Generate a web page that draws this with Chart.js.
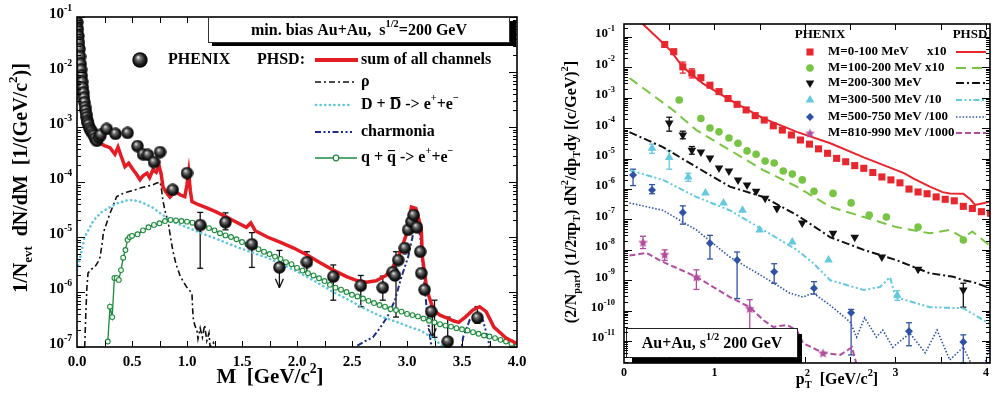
<!DOCTYPE html>
<html>
<head>
<meta charset="utf-8">
<script src="https://cdn.jsdelivr.net/npm/chart.js@4.4.1/dist/chart.umd.min.js"></script>
<style>
  html, body { margin: 0; padding: 0; background: #fff; }
  body { width: 1001px; height: 396px; position: relative; overflow: hidden; }
  canvas { position: absolute; top: 0; }
  #massChart { left: 0; }
  #ptChart { left: 540px; }
</style>
</head>
<body>
<canvas id="massChart" width="540" height="396"></canvas>
<canvas id="ptChart" width="461" height="396"></canvas>
<script>
// ---------- left panel: dN/dM, min. bias Au+Au ----------
var phxM = [0.003, 0.008, 0.013, 0.018, 0.023, 0.028, 0.033, 0.038, 0.043, 0.048, 0.053, 0.058, 0.063, 0.068, 0.073, 0.078, 0.083, 0.088, 0.093, 0.098,
  0.105, 0.115, 0.125, 0.135, 0.145, 0.155, 0.165, 0.18, 0.20, 0.215,
  0.27, 0.35, 0.46, 0.55, 0.60, 0.645, 0.70, 0.755, 0.87, 1.0,
  1.12, 1.35, 1.59, 1.84, 2.09, 2.33, 2.58, 2.78, 2.87, 2.89, 2.92, 2.98, 3.01, 3.04, 3.06, 3.09, 3.12, 3.13, 3.16, 3.22, 3.37, 3.64]
var phxY = [0.08, 0.06, 0.045, 0.034, 0.026, 0.019, 0.014, 0.011, 0.0085, 0.0066, 0.0052, 0.0042, 0.0034, 0.0028, 0.0023, 0.002, 0.0017, 0.0015, 0.0013, 0.0012,
  1.1e-3, 9.5e-4, 8.8e-4, 8.2e-4, 7.5e-4, 7.0e-4, 6.2e-4, 5.6e-4, 6.5e-4, 7.2e-4,
  9.2e-4, 7.5e-4, 7.8e-4, 4.5e-4, 3.2e-4, 3.1e-4, 2.3e-4, 3.5e-4, 7.2e-5, 1.45e-4,
  1.65e-5, 1.85e-5, 7.4e-6, 2.8e-6, 3.5e-6, 1.9e-6, 1.3e-6, 1.2e-6, 2.3e-6, 2.0e-6, 3.8e-6, 6.3e-6, 1.35e-5, 1.9e-5, 2.5e-5, 1.5e-5, 5.4e-6, 2.2e-6, 1.1e-6, 4.4e-7, 1.26e-7, 3.4e-7]
// [M, low, high]
var phxErr = [[1.12, 2.7e-6, 2.8e-5], [1.35, 1.35e-5, 2.75e-5], [1.59, 2.8e-6, 1.2e-5], [2.09, 2.3e-6, 5.4e-6], [2.33, 7.1e-7, 3.1e-6],
  [2.58, 5.4e-7, 2.0e-6], [2.78, 7.1e-7, 1.95e-6], [2.90, 3.5e-7, 5.4e-6], [3.37, 1.0e-7, 3.5e-7], [3.64, 2.7e-7, 5.4e-7], [3.25, 1.5e-7, 7.1e-7]]
// upper limits [M, top, arrow tip]
var phxLim = [[1.84, 5.7e-6, 1.2e-6], [3.23, 4.4e-7, 1.5e-7]]

var sumM = [0.005, 0.02, 0.04, 0.06, 0.08, 0.10, 0.13, 0.16, 0.19, 0.21, 0.25, 0.30, 0.345, 0.373, 0.40, 0.436, 0.47, 0.51, 0.54, 0.573,
  0.60, 0.636, 0.66, 0.69, 0.72, 0.745, 0.765, 0.782, 0.81, 0.845, 0.87, 0.90, 0.94, 0.98, 1.0, 1.015, 1.03, 1.045, 1.10, 1.18,
  1.26, 1.36, 1.45, 1.54, 1.58, 1.62, 1.73, 1.85, 1.97, 2.10, 2.21, 2.33, 2.45, 2.55, 2.63, 2.72, 2.81, 2.87, 2.92, 2.96,
  3.00, 3.04, 3.08, 3.11, 3.13, 3.14, 3.18, 3.24, 3.30, 3.36, 3.42, 3.47, 3.53, 3.60, 3.66, 3.72, 3.79, 3.85, 3.90, 3.95, 4.0]
var sumY = [0.07, 0.035, 0.012, 0.005, 0.0028, 0.0018, 0.0011, 7.5e-4, 5.8e-4, 5.1e-4, 4.6e-4, 4.2e-4, 3.2e-4, 4.3e-4, 3.0e-4, 1.9e-4, 2.2e-4, 1.67e-4, 1.4e-4, 1.1e-4,
  1.3e-4, 1.45e-4, 1.2e-4, 1.67e-4, 1.5e-4, 2.0e-4, 1.4e-4, 8.1e-5, 6.5e-5, 5.3e-5, 6.0e-5, 6.6e-5, 5.8e-5, 5.4e-5, 9.0e-5, 1.5e-4, 7.0e-5, 4.4e-5, 3.9e-5, 3.4e-5,
  2.9e-5, 2.3e-5, 1.85e-5, 1.5e-5, 1.8e-5, 1.3e-5, 1.0e-5, 8.0e-6, 6.3e-6, 4.6e-6, 3.4e-6, 2.5e-6, 1.9e-6, 1.6e-6, 1.5e-6, 1.6e-6, 2.0e-6, 2.8e-6, 4.3e-6, 7.0e-6,
  1.2e-5, 3.5e-5, 3.3e-5, 2.0e-5, 1.35e-5, 4.3e-6, 1.1e-6, 4.7e-7, 3.8e-7, 3.4e-7, 3.0e-7, 2.8e-7, 3.5e-7, 4.7e-7, 5.4e-7, 4.4e-7, 2.3e-7, 1.8e-7, 1.45e-7, 1.3e-7, 1.15e-7]

var rhoM = [0.07, 0.08, 0.09, 0.10, 0.13, 0.16, 0.19, 0.21, 0.23, 0.24, 0.27, 0.30, 0.33, 0.36, 0.40, 0.45, 0.51, 0.55, 0.60, 0.65, 0.69, 0.72, 0.755,
  0.77, 0.78, 0.80, 0.83, 0.85, 0.87, 0.90, 0.94, 0.97, 1.0, 1.045, 1.055, 1.07, 1.09, 1.10, 1.12, 1.14, 1.16, 1.18, 1.20, 1.21, 1.24, 1.26]
var rhoY = [1.0e-7, 4.0e-7, 1.2e-6, 2.2e-6, 2.6e-6, 2.8e-6, 3.5e-6, 4.3e-6, 8.0e-6, 1.2e-5, 1.8e-5, 2.7e-5, 3.8e-5, 5.4e-5, 6.0e-5, 6.5e-5, 7.0e-5, 7.5e-5, 8.0e-5, 8.5e-5, 8.9e-5, 9.5e-5, 1.0e-4,
  7.0e-5, 4.7e-5, 3.0e-5, 1.8e-5, 1.0e-5, 5.8e-6, 3.2e-6, 1.9e-6, 1.5e-6, 1.2e-6, 9.5e-7, 3.5e-7, 2.5e-7, 2.0e-7, 1.4e-7, 2.2e-7, 1.5e-7, 2.5e-7, 1.3e-7, 1.8e-7, 1.0e-7, 1.2e-7, 8.0e-8]

var ddM = [0.0, 0.03, 0.07, 0.15, 0.22, 0.30, 0.38, 0.45, 0.51, 0.57, 0.63, 0.69, 0.78, 0.87, 1.0, 1.12, 1.27, 1.42, 1.57, 1.73,
  1.88, 2.03, 2.18, 2.33, 2.48, 2.64, 2.78, 2.94, 3.03, 3.12, 3.24, 3.33, 3.40]
var ddY = [2.5e-6, 4.3e-6, 1.0e-5, 2.0e-5, 2.8e-5, 3.5e-5, 4.2e-5, 4.6e-5, 4.7e-5, 4.4e-5, 3.9e-5, 3.4e-5, 2.5e-5, 1.9e-5, 1.5e-5, 1.2e-5, 9.2e-6, 7.0e-6, 5.4e-6, 4.2e-6,
  3.1e-6, 2.2e-6, 1.5e-6, 1.0e-6, 7.0e-7, 4.7e-7, 3.5e-7, 2.7e-7, 2.3e-7, 2.0e-7, 1.45e-7, 1.0e-7, 7.0e-8]

var ccM = [2.45, 2.53, 2.61, 2.69, 2.76, 2.82, 2.89, 2.95, 3.01, 3.05, 3.09, 3.12, 3.15, 3.18, 3.21, 3.24, 3.48, 3.51, 3.57, 3.64, 3.69, 3.74, 3.77]
var ccY = [6e-8, 1.0e-7, 1.25e-7, 1.5e-7, 2.3e-7, 3.5e-7, 7.0e-7, 1.9e-6, 4.3e-6, 1.0e-5, 2.2e-5, 1.0e-5, 2.2e-6, 4.7e-7, 1.5e-7, 6e-8, 6e-8, 1.5e-7, 3.1e-7, 3.8e-7, 3.1e-7, 1.3e-7, 6e-8]

var qqM = [0.28, 0.30, 0.32, 0.34, 0.36, 0.38, 0.40, 0.42, 0.44, 0.46, 0.48, 0.50, 0.55, 0.60, 0.65, 0.70, 0.75, 0.80, 0.85, 0.90,
  0.95, 1.00, 1.05, 1.10, 1.15, 1.20, 1.25, 1.30, 1.35, 1.40, 1.45, 1.50, 1.55, 1.60, 1.65, 1.70, 1.75, 1.80, 1.85, 1.90,
  1.95, 2.00, 2.05, 2.10, 2.15, 2.20, 2.25, 2.30, 2.35, 2.40, 2.45, 2.50, 2.55, 2.60, 2.65, 2.70, 2.75, 2.80, 2.85, 2.90,
  2.95, 3.00, 3.05, 3.10, 3.15, 3.20, 3.25, 3.30, 3.35, 3.40, 3.45, 3.50, 3.55, 3.60, 3.65, 3.70, 3.75, 3.80, 3.85, 3.90, 3.95, 4.00]
var qqY = [1.26e-7, 5.4e-7, 3.5e-7, 1.8e-6, 1.8e-6, 1.66e-6, 2.5e-6, 4.2e-6, 5.8e-6, 8.9e-6, 1.0e-5, 1.05e-5, 1.12e-5, 1.32e-5, 1.5e-5, 1.66e-5, 1.78e-5, 1.95e-5, 2.04e-5, 2.0e-5,
  1.95e-5, 1.9e-5, 1.82e-5, 1.7e-5, 1.58e-5, 1.45e-5, 1.32e-5, 1.17e-5, 1.07e-5, 1.0e-5, 9.1e-6, 8.1e-6, 7.4e-6, 6.6e-6, 6.0e-6, 5.4e-6, 4.9e-6, 4.4e-6, 4.0e-6, 3.5e-6,
  3.2e-6, 2.75e-6, 2.45e-6, 2.2e-6, 2.0e-6, 1.78e-6, 1.58e-6, 1.35e-6, 1.2e-6, 1.1e-6, 1.0e-6, 8.9e-7, 8.3e-7, 7.6e-7, 6.9e-7, 6.3e-7, 5.8e-7, 5.4e-7, 4.9e-7, 4.7e-7,
  4.4e-7, 4.0e-7, 3.8e-7, 3.6e-7, 3.3e-7, 3.0e-7, 2.8e-7, 2.6e-7, 2.45e-7, 2.35e-7, 2.2e-7, 2.1e-7, 2.0e-7, 1.86e-7, 1.74e-7, 1.62e-7, 1.55e-7, 1.45e-7, 1.35e-7, 1.26e-7, 1.15e-7, 1.07e-7]

var massTicks = [0, 0.5, 1, 1.5, 2, 2.5, 3, 3.5, 4]
var massTickLabels = ['0.0', '0.5', '1.0', '1.5', '2.0', '2.5', '3.0', '3.5', '4.0']
var massExp = [-1, -2, -3, -4, -5, -6, -7]

// ---------- right panel: pT^2 spectra ----------
var b1X = [0.45, 0.55, 0.65, 0.75, 0.85, 0.95, 1.05, 1.15, 1.25, 1.35, 1.45, 1.55, 1.65, 1.75, 1.85, 1.95, 2.05, 2.15, 2.25,
  2.35, 2.45, 2.55, 2.65, 2.75, 2.85, 2.95, 3.05, 3.15, 3.25, 3.35, 3.45, 3.55, 3.65, 3.75, 3.85, 3.95, 4.05]
var b1Y = [0.057, 0.033, 0.0105, 0.0065, 0.0046, 0.0026, 0.0016, 9.5e-4, 6.1e-4, 4.0e-4, 2.6e-4, 1.86e-4, 1.2e-4, 8.7e-5, 6.0e-5, 4.1e-5, 3.0e-5, 2.1e-5, 1.5e-5,
  1.02e-5, 7.9e-6, 5.9e-6, 4.8e-6, 3.5e-6, 2.5e-6, 2.0e-6, 1.6e-6, 1.0e-6, 8.0e-7, 7.0e-7, 5.5e-7, 4.6e-7, 4.1e-7, 2.7e-7, 2.3e-7, 1.8e-7, 1.6e-7]
var b1LX = [0.19, 0.36, 0.51, 0.65, 0.87, 1.17, 1.54, 1.91, 2.28, 2.65, 3.01, 3.10, 3.20, 3.38, 3.52, 3.60, 3.75, 3.83, 3.88, 3.97, 4.10]
var b1LY = [0.3, 0.1, 0.037, 0.0103, 0.003, 8.5e-4, 2.1e-4, 7.6e-5, 3.2e-5, 1.1e-5, 4.2e-6, 3.3e-6, 2.2e-6, 1.2e-6, 7.9e-7, 7.2e-7, 7.0e-7, 4.5e-7, 3.0e-7, 3.4e-7, 4.3e-7]

var b2X = [0.61, 0.85, 0.95, 1.05, 1.16, 1.26, 1.36, 1.46, 1.56, 1.66, 1.76, 1.86, 1.97, 2.10, 2.31, 2.51, 2.71, 2.90, 3.25, 3.75]
var b2Y = [8.5e-4, 2.1e-4, 1.02e-4, 7.6e-5, 4.8e-5, 3.2e-5, 1.8e-5, 1.4e-5, 8.3e-6, 7.2e-6, 3.9e-6, 3.1e-6, 2.0e-6, 8.5e-7, 7.2e-7, 3.5e-7, 1.4e-7, 1.2e-7, 5.6e-8, 2.1e-8]
var b2LX = [0.06, 0.54, 0.80, 1.17, 1.54, 1.91, 2.28, 2.65, 3.01, 3.38, 3.60, 3.75, 3.85, 4.10]
var b2LY = [4.5e-3, 4.0e-4, 8.7e-5, 1.9e-5, 4.2e-6, 1.2e-6, 2.6e-7, 1.2e-7, 5.6e-8, 3.5e-8, 4.5e-8, 2.5e-8, 4.0e-8, 1.0e-8]

var b3X = [0.50, 0.65, 0.75, 0.85, 0.95, 1.05, 1.16, 1.26, 1.36, 1.46, 1.56, 1.69, 1.97, 2.31, 2.55, 2.85, 3.25, 3.75]
var b3Y = [1.5e-4, 6.0e-5, 1.9e-5, 1.66e-5, 1.05e-5, 4.9e-6, 3.9e-6, 2.0e-6, 1.35e-6, 8.5e-7, 5.0e-7, 2.3e-7, 7.6e-8, 3.5e-8, 2.6e-8, 5.8e-9, 2.3e-9, 4.8e-10]
var b3LX = [0.06, 0.43, 0.80, 1.17, 1.54, 1.91, 2.28, 2.65, 3.01, 3.38, 3.64, 3.75, 3.86, 4.10]
var b3LY = [7.4e-5, 2.4e-5, 5.3e-6, 1.2e-6, 5.5e-7, 1.4e-7, 2.6e-8, 1.0e-8, 4.6e-9, 1.7e-9, 1.3e-9, 1.0e-9, 8.7e-10, 4.8e-10]

var b4X = [0.31, 0.50, 0.71, 0.90, 1.10, 1.31, 1.50, 1.86, 2.26, 3.02]
var b4Y = [2.2e-5, 1.1e-5, 2.5e-6, 7.4e-7, 3.5e-7, 2.0e-7, 4.5e-8, 1.8e-8, 4.6e-9, 3.2e-10]
var b4LX = [0.06, 0.43, 0.80, 1.17, 1.54, 1.91, 2.09, 2.28, 2.65, 2.83, 2.94, 3.00, 3.38, 3.75, 4.10]
var b4LY = [4.2e-6, 2.0e-6, 5.5e-7, 2.0e-7, 4.5e-8, 1.0e-8, 3.7e-9, 1.0e-9, 4.8e-10, 6.0e-10, 1.26e-9, 2.8e-10, 1.3e-10, 1.2e-10, 2.9e-11]

var b5X = [0.10, 0.31, 0.65, 0.95, 1.25, 1.66, 2.10, 2.51, 3.15, 3.75]
var b5Y = [2.9e-6, 9.3e-7, 1.7e-7, 1.66e-8, 4.6e-9, 1.9e-9, 5.5e-10, 8.5e-11, 2.1e-11, 9.3e-12]
var b5LX = [0.06, 0.43, 0.80, 1.17, 1.54, 1.83, 1.98, 2.09, 2.28, 2.50, 2.57, 2.66, 2.79, 2.86, 2.97, 3.16, 3.33, 3.46, 3.60, 3.75, 3.85, 3.98, 4.07]
var b5LY = [3.5e-7, 2.0e-7, 4.5e-8, 5.8e-9, 1.3e-9, 3.8e-10, 2.8e-10, 3.8e-10, 1.5e-10, 4.2e-11, 1.35e-11, 5.8e-11, 1.35e-11, 2.3e-11, 6.3e-12, 1.8e-11, 4.1e-12, 2.3e-11, 2.4e-12, 6.3e-12, 1.5e-12, 1.5e-12, 1.35e-11]

var b6X = [0.21, 0.45, 0.80, 1.39, 2.20]
var b6Y = [1.8e-8, 7.2e-9, 1.3e-9, 1.2e-10, 4.1e-12]
var b6LX = [0.06, 0.25, 0.43, 0.80, 1.17, 1.39, 1.54, 1.65, 1.80, 1.91, 1.98, 2.20, 2.39, 2.52, 2.59]
var b6LY = [6.5e-9, 7.9e-9, 4.0e-9, 1.3e-9, 2.8e-10, 1.3e-10, 4.9e-11, 2.9e-11, 3.4e-11, 2.3e-11, 8.5e-12, 4.1e-12, 3.5e-12, 6.3e-12, 1.0e-12]

// [pT^2, low, high]
var b1Err = [[0.65, 0.0065, 0.015], [0.75, 0.0045, 0.009]]
var b3Err = [[0.50, 8.0e-5, 2.3e-4], [0.65, 4.5e-5, 8.0e-5], [0.75, 1.4e-5, 2.5e-5], [3.75, 1.3e-10, 8.0e-10]]
var b4Err = [[0.31, 1.5e-5, 3.0e-5], [0.50, 4.5e-6, 1.8e-5], [0.71, 1.8e-6, 3.3e-6], [3.02, 2.2e-10, 4.5e-10]]
var b5Err = [[0.10, 1.3e-6, 4.5e-6], [0.31, 7.0e-7, 1.4e-6], [0.65, 7.0e-8, 2.8e-7], [0.95, 5.0e-9, 3.0e-8], [1.25, 2.5e-10, 8.5e-9],
  [1.66, 8.0e-10, 3.5e-9], [2.10, 3.5e-10, 9.0e-10], [2.51, 3.5e-12, 1.1e-10], [3.15, 7.0e-12, 4.0e-11], [3.75, 1.5e-12, 1.6e-11]]
var b6Err = [[0.21, 1.1e-8, 2.8e-8], [0.45, 4.5e-9, 1.0e-8], [0.80, 5.0e-10, 2.2e-9], [1.39, 2.0e-12, 2.3e-10]]

var ptTicks = [0, 1, 3, 4]
var ptTickLabels = ['0', '1', '3', '4']
var ptExp = [-1, -2, -3, -4, -5, -6, -7, -8, -9, -10, -11]
var binLabels = ['M=0-100 MeV', 'M=100-200 MeV x10', 'M=200-300 MeV', 'M=300-500 MeV /10', 'M=500-750 MeV /100', 'M=810-990 MeV /1000']

// ---------- helpers ----------
var RED = '#e41c24', CYAN = '#5ec6dc', NAVY = '#1d2b8c', GREEN = '#1c8a3c'
var RRED = '#e8262e', RGREEN = '#78c444', RCYAN = '#62c9de', RBLUE = '#2f52a6', RMAG = '#b24c9e'
var ROFF = 540

function pts(xs, ys) {
  return xs.map(function (x, i) { return { x: x, y: ys[i] } })
}
function fnt(s) { return 'bold ' + s + 'px "Liberation Serif", "Times New Roman", serif' }
function sup(t) { return { t: t, k: 'sup' } }
function sub(t) { return { t: t, k: 'sub' } }
function bar(t) { return { t: t, k: 'bar' } }
function ss(a, b) { return { t: a, b: b, k: 'ss' } }

function partW(ctx, p, size) {
  if (p.k === 'sup' || p.k === 'sub') { ctx.font = fnt(size * 0.65); return ctx.measureText(p.t).width }
  if (p.k === 'ss') { ctx.font = fnt(size * 0.65); return Math.max(ctx.measureText(p.t).width, ctx.measureText(p.b).width) }
  ctx.font = fnt(size); return ctx.measureText(p.t).width
}
function drawRich(ctx, parts, x, y, size, align) {
  parts = parts.map(function (p) { return typeof p === 'string' ? { t: p, k: '' } : p })
  var w = 0
  parts.forEach(function (p) { w += partW(ctx, p, size) })
  var cx = align === 'center' ? x - w / 2 : align === 'right' ? x - w : x
  ctx.textAlign = 'left'
  ctx.textBaseline = 'middle'
  parts.forEach(function (p) {
    var pw = partW(ctx, p, size)
    if (p.k === 'sup') ctx.fillText(p.t, cx, y - size * 0.4)
    else if (p.k === 'sub') ctx.fillText(p.t, cx, y + size * 0.32)
    else if (p.k === 'ss') { ctx.fillText(p.t, cx, y - size * 0.4); ctx.fillText(p.b, cx, y + size * 0.32) }
    else {
      ctx.fillText(p.t, cx, y)
      if (p.k === 'bar') ctx.fillRect(cx + 1, y - size * 0.5, pw - 2, Math.max(1, size * 0.07))
    }
    cx += pw
  })
  return w
}
function seg(ctx, x1, y1, x2, y2) {
  ctx.beginPath(); ctx.moveTo(x1, y1); ctx.lineTo(x2, y2); ctx.stroke()
}
function sample(ctx, x1, x2, y, color, width, dash) {
  ctx.save(); ctx.strokeStyle = color; ctx.lineWidth = width; ctx.setLineDash(dash || []); seg(ctx, x1, y, x2, y); ctx.restore()
}
function errorBars(ctx, chart, list, color, cap) {
  var xs = chart.scales.x, ys = chart.scales.y
  ctx.save(); ctx.strokeStyle = color; ctx.lineWidth = 1.3
  list.forEach(function (e) {
    var x = xs.getPixelForValue(e[0]), y1 = ys.getPixelForValue(e[1]), y2 = ys.getPixelForValue(e[2])
    y1 = Math.min(y1, chart.chartArea.bottom)
    seg(ctx, x, y1, x, y2); seg(ctx, x - cap, y1, x + cap, y1); seg(ctx, x - cap, y2, x + cap, y2)
  })
  ctx.restore()
}
function logTicks(ctx, chart) {
  var a = chart.chartArea, ys = chart.scales.y
  var lo = Math.floor(Math.log10(ys.min)), hi = Math.ceil(Math.log10(ys.max))
  for (var d = lo; d <= hi; d++) {
    for (var k = 1; k <= 9; k++) {
      var v = k * Math.pow(10, d)
      if (v < ys.min * 0.999 || v > ys.max * 1.001) continue
      var y = Math.round(ys.getPixelForValue(v)) + 0.5, L = k === 1 ? 8 : 4
      seg(ctx, a.left, y, a.left + L, y); seg(ctx, a.right, y, a.right - L, y)
    }
  }
}
function frame(ctx, chart, xStep) {
  var a = chart.chartArea, xs = chart.scales.x
  ctx.save()
  ctx.strokeStyle = '#000'; ctx.lineWidth = 1
  logTicks(ctx, chart)
  for (var v = xStep; v < xs.max - 1e-6; v += xStep) {
    var x = Math.round(xs.getPixelForValue(v)) + 0.5
    seg(ctx, x, a.bottom, x, a.bottom - 6); seg(ctx, x, a.top, x, a.top + 6)
  }
  ctx.lineWidth = 1.6
  ctx.strokeRect(a.left, a.top, a.right - a.left, a.bottom - a.top)
  ctx.restore()
}
function makeBall(d) {
  var c = document.createElement('canvas'); c.width = c.height = d
  var g = c.getContext('2d'), r = d / 2
  var grad = g.createRadialGradient(r * 0.75, r * 0.65, r * 0.05, r, r, r)
  grad.addColorStop(0, '#e6e6e6'); grad.addColorStop(0.25, '#777'); grad.addColorStop(0.65, '#1e1e1e'); grad.addColorStop(1, '#000')
  g.fillStyle = grad; g.beginPath(); g.arc(r, r, r - 0.3, 0, Math.PI * 2); g.fill()
  return c
}
function makeStar(d, color) {
  var c = document.createElement('canvas'); c.width = c.height = d
  var g = c.getContext('2d'), r = d / 2
  g.beginPath()
  for (var i = 0; i < 10; i++) {
    var rad = i % 2 ? r * 0.42 : r - 0.3, ang = -Math.PI / 2 + i * Math.PI / 5
    g.lineTo(r + rad * Math.cos(ang), r + 0.6 + rad * Math.sin(ang))
  }
  g.closePath(); g.fillStyle = color; g.fill()
  return c
}
var ball = makeBall(13), bigBall = makeBall(16), star = makeStar(11, RMAG)

function curve(data, color, width, dash) {
  return { data: data, showLine: true, borderColor: color, borderWidth: width, borderDash: dash || [], pointRadius: 0, clip: 0 }
}
function marks(data, style, color, r, rot) {
  return { data: data, showLine: false, pointStyle: style, pointRadius: r, pointRotation: rot || 0,
    pointBackgroundColor: color, pointBorderColor: color, pointBorderWidth: 0 }
}

// ---------- left chart ----------
var massDeco = {
  id: 'massDeco',
  beforeDatasetsDraw: function (chart) {
    var ctx = chart.ctx, xs = chart.scales.x, ys = chart.scales.y
    errorBars(ctx, chart, phxErr, '#111', 3)
    ctx.save(); ctx.strokeStyle = '#111'; ctx.lineWidth = 1.3
    phxLim.forEach(function (u) {
      var x = xs.getPixelForValue(u[0]), y1 = ys.getPixelForValue(u[1]), y2 = ys.getPixelForValue(u[2])
      seg(ctx, x - 3, y1, x + 3, y1); seg(ctx, x, y1, x, y2)
      seg(ctx, x - 4, y2 - 9, x, y2); seg(ctx, x + 4, y2 - 9, x, y2)
    })
    ctx.restore()
  },
  afterDraw: function (chart) {
    var ctx = chart.ctx, a = chart.chartArea, xs = chart.scales.x, ys = chart.scales.y
    frame(ctx, chart, 0.25)
    ctx.fillStyle = '#000'
    massTicks.forEach(function (v, i) { drawRich(ctx, [massTickLabels[i]], xs.getPixelForValue(v), 362, 15, 'center') })
    massExp.forEach(function (e) { drawRich(ctx, ['10', sup(String(e))], a.left - 5, ys.getPixelForValue(Math.pow(10, e)) - 3, 15, 'right') })
    drawRich(ctx, ['M  [GeV/c', sup('2'), ']'], 270, 378, 21, 'center')
    ctx.save(); ctx.translate(22, 178); ctx.rotate(-Math.PI / 2)
    drawRich(ctx, ['1/N', sub('evt'), '  dN/dM  [1/(GeV/c', sup('2'), ')]'], 0, 0, 20, 'center')
    ctx.restore()

    // title box
    ctx.fillStyle = '#000'; ctx.fillRect(212, 21, 304, 25)
    ctx.fillStyle = '#fff'; ctx.fillRect(208.5, 17.5, 301, 25)
    ctx.strokeStyle = '#333'; ctx.lineWidth = 1; ctx.strokeRect(208.5, 17.5, 301, 25)
    ctx.fillStyle = '#000'
    drawRich(ctx, ['min. bias Au+Au,  s', sup('1/2'), '=200 GeV'], 359, 31, 16, 'center')

    // legend
    ctx.drawImage(bigBall, 132, 52)
    drawRich(ctx, ['PHENIX'], 168, 60, 16, 'left')
    drawRich(ctx, ['PHSD:'], 257, 60, 16, 'left')
    sample(ctx, 315, 358, 60, RED, 4)
    drawRich(ctx, ['sum of all channels'], 361, 60, 16, 'left')
    sample(ctx, 315, 354, 82, '#111', 1.6, [6, 3, 2, 3])
    drawRich(ctx, ['\u03c1'], 361, 82, 16, 'left')
    ctx.save(); ctx.lineCap = 'round'; sample(ctx, 316, 352, 105, CYAN, 2.6, [0.1, 4.5]); ctx.restore()
    drawRich(ctx, ['D + ', bar('D'), ' -> e', sup('+'), '+e', sup('\u2212')], 361, 105, 16, 'left')
    sample(ctx, 315, 352, 132, NAVY, 2, [6, 2.5, 2, 2.5, 2, 2.5])
    drawRich(ctx, ['charmonia'], 361, 132, 16, 'left')
    sample(ctx, 315, 357, 158, GREEN, 1.6)
    ctx.save(); ctx.strokeStyle = GREEN; ctx.fillStyle = '#fff'; ctx.lineWidth = 1.2
    ctx.beginPath(); ctx.arc(336, 158, 2.8, 0, Math.PI * 2); ctx.fill(); ctx.stroke(); ctx.restore()
    ctx.fillStyle = '#000'
    drawRich(ctx, ['q + ', bar('q'), ' -> e', sup('+'), '+e', sup('\u2212')], 361, 158, 16, 'left')
  }
}

new Chart('massChart', {
  type: 'scatter',
  data: {
    datasets: [
      marks(pts(phxM, phxY), ball, '#000', 6),
      curve(pts(sumM, sumY), RED, 3.5),
      Object.assign(curve(pts(qqM, qqY), GREEN, 1.3), { pointRadius: 2.4, pointStyle: 'circle', pointBorderWidth: 1.1, pointBorderColor: GREEN, pointBackgroundColor: 'rgba(255,255,255,0.9)' }),
      Object.assign(curve(pts(ddM, ddY), CYAN, 2.6, [0.1, 4.5]), { borderCapStyle: 'round' }),
      curve(pts(rhoM, rhoY), '#111', 1.6, [6, 3, 2, 3]),
      curve(pts(ccM, ccY), NAVY, 2, [6, 2.5, 2, 2.5, 2, 2.5])
    ]
  },
  options: {
    responsive: false,
    animation: false,
    layout: { padding: { left: 0, right: 23, top: 17, bottom: 0 } },
    plugins: { legend: { display: false }, tooltip: { enabled: false } },
    scales: {
      x: { type: 'linear', min: 0, max: 4, ticks: { display: false }, grid: { display: false }, border: { display: false },
        afterFit: function (s) { s.height = 49 } },
      y: { type: 'logarithmic', min: 1e-7, max: 0.1, ticks: { display: false }, grid: { display: false }, border: { display: false },
        afterFit: function (s) { s.width = 77 } }
    }
  },
  plugins: [massDeco]
})

// ---------- right chart ----------
var legendRows = [
  { style: 'rect', color: RRED, r: 5, rot: 0, line: [RRED, 2, []] },
  { style: 'circle', color: RGREEN, r: 3.8, rot: 0, line: [RGREEN, 2, [10, 6]] },
  { style: 'triangle', color: '#111', r: 5, rot: 180, line: ['#111', 2, [8, 3, 2, 3]] },
  { style: 'triangle', color: RCYAN, r: 5, rot: 0, line: [RCYAN, 2, [6, 2.5, 2, 2.5, 2, 2.5]] },
  { style: 'rectRot', color: RBLUE, r: 4, rot: 0, line: [RBLUE, 1.6, [1.5, 1.8]] },
  { style: star, color: RMAG, r: 5, rot: 0, line: [RMAG, 2, [6, 3]] }
]
var legendY = [52, 68, 83, 100, 117, 133]

var ptDeco = {
  id: 'ptDeco',
  beforeDatasetsDraw: function (chart) {
    var ctx = chart.ctx
    errorBars(ctx, chart, b1Err, RRED, 3)
    errorBars(ctx, chart, b3Err, '#111', 3)
    errorBars(ctx, chart, b4Err, RCYAN, 3)
    errorBars(ctx, chart, b5Err, RBLUE, 3)
    errorBars(ctx, chart, b6Err, RMAG, 3)
  },
  afterDraw: function (chart) {
    var ctx = chart.ctx, a = chart.chartArea, xs = chart.scales.x, ys = chart.scales.y
    // label box (drawn over the curves)
    ctx.save(); ctx.translate(-ROFF, 0)
    ctx.fillStyle = '#000'; ctx.fillRect(632, 334, 170, 29)
    ctx.fillStyle = '#fff'; ctx.fillRect(626.5, 328.5, 171, 29)
    ctx.strokeStyle = '#222'; ctx.lineWidth = 1; ctx.strokeRect(626.5, 328.5, 171, 29)
    ctx.fillStyle = '#000'
    drawRich(ctx, ['Au+Au, s', sup('1/2'), ' 200 GeV'], 712, 344, 16, 'center')
    ctx.restore()

    frame(ctx, chart, 0.5)
    ctx.fillStyle = '#000'
    ptTicks.forEach(function (v, i) { drawRich(ctx, [ptTickLabels[i]], xs.getPixelForValue(v), 373, 12, 'center') })
    ptExp.forEach(function (e) { drawRich(ctx, ['10', sup(String(e))], a.left - 9, ys.getPixelForValue(Math.pow(10, e)) - 3, 13, 'right') })

    ctx.save(); ctx.translate(-ROFF, 0)
    drawRich(ctx, ['p', ss('2', 'T'), '  [GeV/c', sup('2'), ']'], 837, 380, 16, 'center')
    ctx.save(); ctx.translate(572, 192); ctx.rotate(-Math.PI / 2)
    drawRich(ctx, ['(2/N', sub('part'), ') (1/2\u03c0p', sub('T'), ') dN', sup('2'), '/dp', sub('T'), 'dy [(c/GeV)', sup('2'), ']'], 0, 0, 16, 'center')
    ctx.restore()

    // legend
    drawRich(ctx, ['PHENIX'], 820, 35, 13, 'center')
    drawRich(ctx, ['PHSD'], 970, 35, 13, 'center')
    legendRows.forEach(function (row, i) {
      var y = legendY[i]
      ctx.fillStyle = row.color
      if (typeof row.style === 'string') {
        Chart.helpers.drawPoint(ctx, { pointStyle: row.style, radius: row.r, rotation: row.rot, borderWidth: 0 }, 810, y)
      } else {
        ctx.drawImage(row.style, 810 - row.style.width / 2, y - row.style.height / 2)
      }
      ctx.fillStyle = '#000'
      if (i === 0) {
        drawRich(ctx, ['M=0-100 MeV'], 828, y, 13, 'left')
        drawRich(ctx, ['x10'], 927, y, 13, 'left')
      } else {
        drawRich(ctx, [binLabels[i]], 828, y, 13, 'left')
      }
      sample(ctx, 956, 986, y, row.line[0], row.line[1], row.line[2])
    })
    ctx.restore()
  }
}

new Chart('ptChart', {
  type: 'scatter',
  data: {
    datasets: [
      marks(pts(b1X, b1Y), 'rect', RRED, 5),
      marks(pts(b2X, b2Y), 'circle', RGREEN, 3.8),
      marks(pts(b3X, b3Y), 'triangle', '#111', 5, 180),
      marks(pts(b4X, b4Y), 'triangle', RCYAN, 5),
      marks(pts(b5X, b5Y), 'rectRot', RBLUE, 4),
      marks(pts(b6X, b6Y), star, RMAG, 5),
      curve(pts(b1LX, b1LY), RRED, 2),
      curve(pts(b2LX, b2LY), RGREEN, 2, [10, 6]),
      curve(pts(b3LX, b3LY), '#111', 2, [8, 3, 2, 3]),
      curve(pts(b4LX, b4LY), RCYAN, 2, [6, 2.5, 2, 2.5, 2, 2.5]),
      curve(pts(b5LX, b5LY), RBLUE, 1.6, [1.5, 1.8]),
      curve(pts(b6LX, b6LY), RMAG, 2, [6, 3])
    ]
  },
  options: {
    responsive: false,
    animation: false,
    layout: { padding: { left: 0, right: 11, top: 24, bottom: 0 } },
    plugins: { legend: { display: false }, tooltip: { enabled: false } },
    scales: {
      x: { type: 'linear', min: 0, max: 4.045, ticks: { display: false }, grid: { display: false }, border: { display: false },
        afterFit: function (s) { s.height = 33 } },
      y: { type: 'logarithmic', min: 1.9e-12, max: 0.268, ticks: { display: false }, grid: { display: false }, border: { display: false },
        afterFit: function (s) { s.width = 84 } }
    }
  },
  plugins: [ptDeco]
})
</script>
</body>
</html>
